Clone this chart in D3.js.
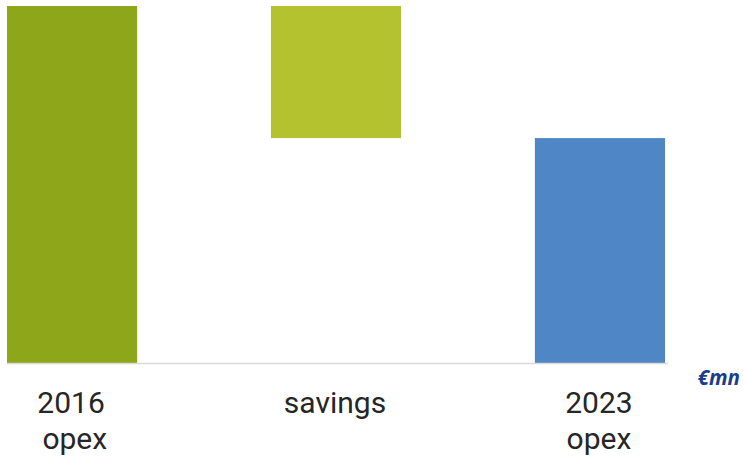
<!DOCTYPE html>
<html>
<head>
<meta charset="utf-8">
<script src="https://cdn.jsdelivr.net/npm/d3@7"></script>
<style>
  html, body { margin: 0; padding: 0; background: #fff; }
  svg { display: block; }
</style>
</head>
<body>
<svg id="chart" width="743" height="459"></svg>
<script>
const categories = ["2016 opex", "savings", "2023 opex"];
const labelLines = [["2016", " opex"], ["savings"], ["2023", "opex"]];
const values = [100, -37, 63];
const barTypes = ["total", "delta", "total"];
const colors = ["#8ea619", "#b5c22f", "#4e86c6"];
const unitLabel = "€mn";

const svg = d3.select("#chart");

const x = d3.scaleBand().domain(categories).range([7, 665]).paddingInner(0.507).paddingOuter(0);
const y = d3.scaleLinear().domain([0, 100]).range([363, 6]);

// compute waterfall segments
let running = 0;
const bars = categories.map((c, i) => {
  let y0, y1;
  if (barTypes[i] === "total") {
    y0 = 0; y1 = values[i]; running = values[i];
  } else {
    y0 = running + values[i]; y1 = running; running = y0;
  }
  return { c, y0, y1, color: colors[i] };
});

svg.selectAll("rect.bar").data(bars).enter().append("rect")
  .attr("class", "bar")
  .attr("x", d => x(d.c))
  .attr("width", x.bandwidth())
  .attr("y", d => y(Math.max(d.y0, d.y1)))
  .attr("height", d => Math.abs(y(d.y0) - y(d.y1)))
  .attr("fill", d => d.color);

// baseline
svg.append("line")
  .attr("x1", 7).attr("x2", 668)
  .attr("y1", y(0) + 0.5).attr("y2", y(0) + 0.5)
  .attr("stroke", "#d9d9d9").attr("stroke-width", 1.5);

// category labels
const lbl = svg.selectAll("text.cat").data(categories).enter().append("text")
  .attr("class", "cat")
  .attr("text-anchor", "middle")
  .attr("font-family", "Roboto, sans-serif")
  .attr("font-size", 30)
  .attr("fill", "#262626")
  .attr("style", "white-space: pre");
lbl.each(function(c, i) {
  const t = d3.select(this);
  labelLines[i].forEach((line, j) => {
    t.append("tspan")
      .attr("x", x(c) + x.bandwidth() / 2 - 1)
      .attr("y", 413 + j * 36)
      .text(line);
  });
});

// unit label
svg.append("text")
  .attr("x", 740).attr("y", 385)
  .attr("text-anchor", "end")
  .attr("font-family", "'Open Sans', sans-serif")
  .attr("font-style", "italic")
  .attr("font-weight", "bold")
  .attr("font-size", 20.5)
  .attr("fill", "#1a3d8c")
  .text(unitLabel);
</script>
</body>
</html>
